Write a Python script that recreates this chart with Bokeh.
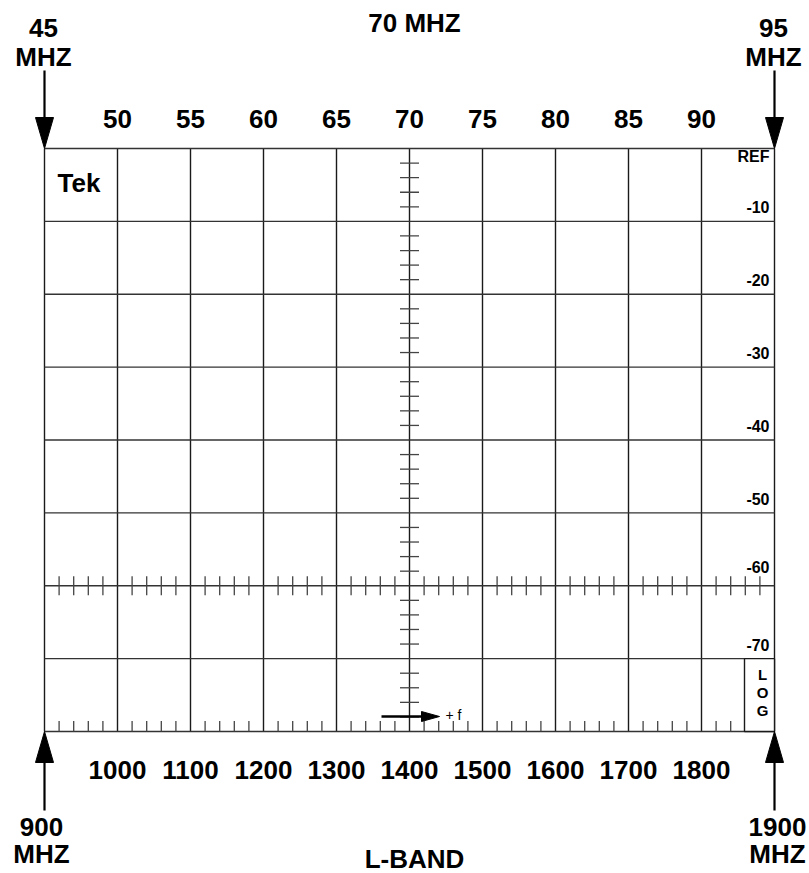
from bokeh.plotting import figure
from bokeh.models import Range1d
from bokeh.core.properties import value
from bokeh.embed import file_html
from bokeh.resources import INLINE

# ---------------- data ----------------
if_start, if_stop = 45, 95                       # 70 MHz IF band edges (MHz)
if_center = 70
if_labels = [50, 55, 60, 65, 70, 75, 80, 85, 90]
if_step = 5
lb_start, lb_stop = 900, 1900                    # L-band edges (MHz)
lb_labels = [1000, 1100, 1200, 1300, 1400, 1500, 1600, 1700, 1800]
db_lines = [0, -10, -20, -30, -40, -50, -60, -70, -80]
db_labels = ["REF", "-10", "-20", "-30", "-40", "-50", "-60", "-70"]
db_label_vals = [0, -10, -20, -30, -40, -50, -60, -70]
tick_line_db = -60
minor_db = 2
minor_mhz = 1

# ---------------- layout (picture pixels) ----------------
W, H = 809, 873
M = 0
GX0, GX1 = 44, 774
GY0, GY1 = 148, 731
sx = (GX1 - GX0) / (if_stop - if_start)
sy = (GY1 - GY0) / (db_lines[0] - db_lines[-1])
ytop, ybot = db_lines[0], db_lines[-1]
BASE_FIX = 0.38   # baseline correction (fraction of font size)

def X(px):
    return if_start + (px - GX0) / sx

def Y(py):
    return ytop - (py - GY0) / sy

def YT(py, fs):
    return Y(py - BASE_FIX * fs)

def lb_to_x(f):
    return if_start + (f - lb_start) / (lb_stop - lb_start) * (if_stop - if_start)

p = figure(width=W, height=H, output_backend="svg", toolbar_location=None,
           x_range=Range1d(X(M), X(M + W)), y_range=Range1d(Y(M + H), Y(M)),
           min_border=0, x_axis_location=None, y_axis_location=None)
p.xgrid.visible = False
p.ygrid.visible = False
p.outline_line_color = None
p.background_fill_color = "white"
p.border_fill_color = "white"

FONT = value("Liberation Sans")
LINE = "#1a1a1a"

# grid
vx = list(range(if_start, if_stop + 1, if_step))
p.segment(x0=vx, x1=vx, y0=[ybot] * len(vx), y1=[ytop] * len(vx), line_color=LINE, line_width=1.4)
p.segment(x0=[if_start] * len(db_lines), x1=[if_stop] * len(db_lines), y0=db_lines, y1=db_lines,
          line_color="#333333", line_width=1.4)

# minor ticks on the centre line
ty = [v for v in range(ybot + minor_db, ytop, minor_db) if v % 10 != 0]
hx = 9.5 / sx
p.segment(x0=[if_center - hx] * len(ty), x1=[if_center + hx] * len(ty), y0=ty, y1=ty,
          line_color="#444444", line_width=1.3)

# minor ticks on the -60 line and bottom line
tx = [v for v in range(if_start + minor_mhz, if_stop, minor_mhz) if v % if_step != 0]
hy = 9.5 / sy
p.segment(x0=tx, x1=tx, y0=[tick_line_db - hy] * len(tx), y1=[tick_line_db + hy] * len(tx),
          line_color="#444444", line_width=1.3)
p.segment(x0=tx, x1=tx, y0=[ybot] * len(tx), y1=[ybot + 10.5 / sy] * len(tx),
          line_color="#444444", line_width=1.3)

# LOG box
p.quad(left=[X(744)], right=[if_stop], bottom=[ybot], top=[-70], fill_color="white",
       line_color=LINE, line_width=1.4)
p.text(x=[X(762)] * 3, y=[YT(680, 15), YT(698, 15), YT(716, 15)], text=["L", "O", "G"], text_font=FONT,
       text_font_style="bold", text_font_size="15px", text_align="center", text_baseline="alphabetic")

# +f arrow
p.segment(x0=[X(381)], x1=[X(424)], y0=[Y(716)], y1=[Y(716)], line_color="black", line_width=2.5)
p.patch(x=[X(421), X(439), X(421)], y=[Y(711), Y(716), Y(721)], fill_color="black", line_color="black")
p.text(x=[X(445)], y=[YT(720, 14)], text=["+ f"], text_font=FONT, text_font_size="14px",
       text_baseline="alphabetic", text_color="black")

# big edge arrows
def arrow_down(cx, y_start, y_tip):
    p.segment(x0=[X(cx)], x1=[X(cx)], y0=[Y(y_start)], y1=[Y(y_tip - 25)], line_color="black", line_width=2.2)
    p.patch(x=[X(cx - 9), X(cx), X(cx + 9)], y=[Y(y_tip - 31), Y(y_tip), Y(y_tip - 31)],
            fill_color="black", line_color="black")

def arrow_up(cx, y_start, y_tip):
    p.segment(x0=[X(cx)], x1=[X(cx)], y0=[Y(y_start)], y1=[Y(y_tip + 25)], line_color="black", line_width=2.2)
    p.patch(x=[X(cx - 9), X(cx), X(cx + 9)], y=[Y(y_tip + 31), Y(y_tip), Y(y_tip + 31)],
            fill_color="black", line_color="black")

arrow_down(GX0, 70, GY0)
arrow_down(GX1, 70, GY0)
arrow_up(GX0, 810, GY1)
arrow_up(GX1, 810, GY1)

BIG = 26
def big_text(xs, pys, txt, size=BIG, align="center"):
    p.text(x=xs, y=[YT(v, size) for v in pys], text=txt, text_font=FONT, text_font_style="bold",
           text_font_size=f"{size}px", text_align=align, text_baseline="alphabetic", text_color="black")

# top IF labels
big_text(if_labels, [128] * len(if_labels), [str(v) for v in if_labels])
# bottom L-band labels
big_text([lb_to_x(v) for v in lb_labels], [779] * len(lb_labels), [str(v) for v in lb_labels])
# edge labels
big_text([X(43), X(43)], [37, 66], [str(if_start), "MHZ"])
big_text([X(773), X(773)], [37, 66], [str(if_stop), "MHZ"])
big_text([X(41), X(41)], [836, 863], [str(lb_start), "MHZ"])
big_text([X(777), X(777)], [836, 863], [str(lb_stop), "MHZ"])
# titles
big_text([X(414)], [32], [f"{if_center} MHZ"])
big_text([X(414)], [868], ["L-BAND"])
# Tek
big_text([X(57)], [192], ["Tek"], align="left")

# dB labels
lab_px = []
for v in db_label_vals:
    line_px = GY0 + (ytop - v) * sy
    if v == 0:
        lab_px.append(162)
    elif v == tick_line_db:
        lab_px.append(line_px - 13)
    else:
        lab_px.append(line_px - 8)
p.text(x=[X(769)] * len(db_labels), y=[YT(v, 16) for v in lab_px], text=db_labels, text_font=FONT,
       text_font_style="bold", text_font_size="16px", text_align="right", text_baseline="alphabetic",
       text_color="black")

open("out.html", "w").write(file_html(p, INLINE))
